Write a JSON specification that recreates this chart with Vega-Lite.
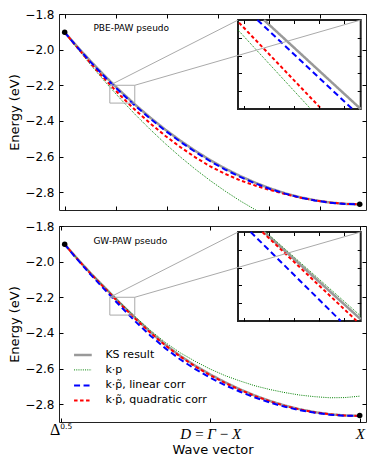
{
  "$schema": "https://vega.github.io/schema/vega-lite/v6.json",
  "padding": {"left": 8, "top": 7, "right": 2, "bottom": 2},
  "spacing": 8,
  "config": {
    "view": {"stroke": "#222", "strokeWidth": 1},
    "scale": {"zero": false},
    "axis": {"grid": false, "domain": false, "tickColor": "#000", "tickSize": -4, "tickWidth": 1, "labelColor": "#000", "labelFont": "DejaVu Sans", "labelFontSize": 12, "titleFont": "DejaVu Sans", "titleFontSize": 13, "titleFontWeight": "normal", "titleColor": "#000", "labelFlush": false, "labelPadding": 9}
  },
  "datasets": {
    "top": [
      {"s":"KS result","x":0.013,"y":-1.903},{"s":"KS result","x":0.05,"y":-1.9736},{"s":"KS result","x":0.1,"y":-2.0653},{"s":"KS result","x":0.15,"y":-2.152},{"s":"KS result","x":0.2,"y":-2.2338},{"s":"KS result","x":0.25,"y":-2.3106},{"s":"KS result","x":0.3,"y":-2.3824},{"s":"KS result","x":0.35,"y":-2.4493},{"s":"KS result","x":0.4,"y":-2.5112},{"s":"KS result","x":0.45,"y":-2.5682},{"s":"KS result","x":0.5,"y":-2.6203},{"s":"KS result","x":0.55,"y":-2.6673},{"s":"KS result","x":0.6,"y":-2.7094},{"s":"KS result","x":0.65,"y":-2.7466},{"s":"KS result","x":0.7,"y":-2.7788},{"s":"KS result","x":0.75,"y":-2.8061},{"s":"KS result","x":0.8,"y":-2.8284},{"s":"KS result","x":0.85,"y":-2.8457},{"s":"KS result","x":0.9,"y":-2.8581},{"s":"KS result","x":0.95,"y":-2.8655},{"s":"KS result","x":1.0,"y":-2.868},
      {"s":"k·p","x":0.013,"y":-1.903},{"s":"k·p","x":0.05,"y":-1.9825},{"s":"k·p","x":0.1,"y":-2.0857},{"s":"k·p","x":0.15,"y":-2.1839},{"s":"k·p","x":0.2,"y":-2.2774},{"s":"k·p","x":0.25,"y":-2.3659},{"s":"k·p","x":0.3,"y":-2.4495},{"s":"k·p","x":0.35,"y":-2.5282},{"s":"k·p","x":0.4,"y":-2.6021},{"s":"k·p","x":0.45,"y":-2.671},{"s":"k·p","x":0.5,"y":-2.7351},{"s":"k·p","x":0.55,"y":-2.7943},{"s":"k·p","x":0.6,"y":-2.8486},{"s":"k·p","x":0.65,"y":-2.898},{"s":"k·p","x":0.7,"y":-2.9425},
      {"s":"k·p̃, quadratic corr","x":0.013,"y":-1.903},{"s":"k·p̃, quadratic corr","x":0.05,"y":-1.9776},{"s":"k·p̃, quadratic corr","x":0.1,"y":-2.0773},{"s":"k·p̃, quadratic corr","x":0.15,"y":-2.171},{"s":"k·p̃, quadratic corr","x":0.2,"y":-2.2588},{"s":"k·p̃, quadratic corr","x":0.25,"y":-2.3406},{"s":"k·p̃, quadratic corr","x":0.3,"y":-2.4154},{"s":"k·p̃, quadratic corr","x":0.35,"y":-2.4843},{"s":"k·p̃, quadratic corr","x":0.4,"y":-2.5472},{"s":"k·p̃, quadratic corr","x":0.45,"y":-2.6042},{"s":"k·p̃, quadratic corr","x":0.5,"y":-2.6553},{"s":"k·p̃, quadratic corr","x":0.55,"y":-2.6973},{"s":"k·p̃, quadratic corr","x":0.6,"y":-2.7334},{"s":"k·p̃, quadratic corr","x":0.65,"y":-2.7626},{"s":"k·p̃, quadratic corr","x":0.7,"y":-2.7878},{"s":"k·p̃, quadratic corr","x":0.75,"y":-2.8101},{"s":"k·p̃, quadratic corr","x":0.8,"y":-2.8304},{"s":"k·p̃, quadratic corr","x":0.85,"y":-2.8457},{"s":"k·p̃, quadratic corr","x":0.9,"y":-2.8581},{"s":"k·p̃, quadratic corr","x":0.95,"y":-2.8655},{"s":"k·p̃, quadratic corr","x":1.0,"y":-2.868},
      {"s":"k·p̃, linear corr","x":0.013,"y":-1.903},{"s":"k·p̃, linear corr","x":0.05,"y":-1.9766},{"s":"k·p̃, linear corr","x":0.1,"y":-2.0703},{"s":"k·p̃, linear corr","x":0.15,"y":-2.158},{"s":"k·p̃, linear corr","x":0.2,"y":-2.2398},{"s":"k·p̃, linear corr","x":0.25,"y":-2.3166},{"s":"k·p̃, linear corr","x":0.3,"y":-2.3884},{"s":"k·p̃, linear corr","x":0.35,"y":-2.4553},{"s":"k·p̃, linear corr","x":0.4,"y":-2.5172},{"s":"k·p̃, linear corr","x":0.45,"y":-2.5742},{"s":"k·p̃, linear corr","x":0.5,"y":-2.6263},{"s":"k·p̃, linear corr","x":0.55,"y":-2.6733},{"s":"k·p̃, linear corr","x":0.6,"y":-2.7144},{"s":"k·p̃, linear corr","x":0.65,"y":-2.7506},{"s":"k·p̃, linear corr","x":0.7,"y":-2.7818},{"s":"k·p̃, linear corr","x":0.75,"y":-2.8081},{"s":"k·p̃, linear corr","x":0.8,"y":-2.8299},{"s":"k·p̃, linear corr","x":0.85,"y":-2.8467},{"s":"k·p̃, linear corr","x":0.9,"y":-2.8586},{"s":"k·p̃, linear corr","x":0.95,"y":-2.8657},{"s":"k·p̃, linear corr","x":1.0,"y":-2.868}
    ],
    "bottom": [
      {"s":"KS result","x":0.013,"y":-1.903},{"s":"KS result","x":0.05,"y":-1.9736},{"s":"KS result","x":0.1,"y":-2.0653},{"s":"KS result","x":0.15,"y":-2.1507},{"s":"KS result","x":0.2,"y":-2.2356},{"s":"KS result","x":0.25,"y":-2.3176},{"s":"KS result","x":0.3,"y":-2.3956},{"s":"KS result","x":0.35,"y":-2.4667},{"s":"KS result","x":0.4,"y":-2.5294},{"s":"KS result","x":0.45,"y":-2.5847},{"s":"KS result","x":0.5,"y":-2.6335},{"s":"KS result","x":0.55,"y":-2.6777},{"s":"KS result","x":0.6,"y":-2.7172},{"s":"KS result","x":0.65,"y":-2.7521},{"s":"KS result","x":0.7,"y":-2.7823},{"s":"KS result","x":0.75,"y":-2.8079},{"s":"KS result","x":0.8,"y":-2.8288},{"s":"KS result","x":0.85,"y":-2.8451},{"s":"KS result","x":0.9,"y":-2.8567},{"s":"KS result","x":0.95,"y":-2.8637},{"s":"KS result","x":1.0,"y":-2.866},
      {"s":"k·p","x":0.013,"y":-1.903},{"s":"k·p","x":0.05,"y":-1.973},{"s":"k·p","x":0.1,"y":-2.064},{"s":"k·p","x":0.15,"y":-2.149},{"s":"k·p","x":0.2,"y":-2.232},{"s":"k·p","x":0.25,"y":-2.311},{"s":"k·p","x":0.3,"y":-2.386},{"s":"k·p","x":0.35,"y":-2.454},{"s":"k·p","x":0.4,"y":-2.512},{"s":"k·p","x":0.45,"y":-2.56},{"s":"k·p","x":0.5,"y":-2.603},{"s":"k·p","x":0.55,"y":-2.64},{"s":"k·p","x":0.6,"y":-2.67},{"s":"k·p","x":0.65,"y":-2.697},{"s":"k·p","x":0.7,"y":-2.718},{"s":"k·p","x":0.75,"y":-2.735},{"s":"k·p","x":0.8,"y":-2.749},{"s":"k·p","x":0.85,"y":-2.758},{"s":"k·p","x":0.9,"y":-2.764},{"s":"k·p","x":0.95,"y":-2.763},{"s":"k·p","x":1.0,"y":-2.755},
      {"s":"k·p̃, quadratic corr","x":0.013,"y":-1.903},{"s":"k·p̃, quadratic corr","x":0.05,"y":-1.9756},{"s":"k·p̃, quadratic corr","x":0.1,"y":-2.0683},{"s":"k·p̃, quadratic corr","x":0.15,"y":-2.1547},{"s":"k·p̃, quadratic corr","x":0.2,"y":-2.2396},{"s":"k·p̃, quadratic corr","x":0.25,"y":-2.3216},{"s":"k·p̃, quadratic corr","x":0.3,"y":-2.3996},{"s":"k·p̃, quadratic corr","x":0.35,"y":-2.4707},{"s":"k·p̃, quadratic corr","x":0.4,"y":-2.5334},{"s":"k·p̃, quadratic corr","x":0.45,"y":-2.5887},{"s":"k·p̃, quadratic corr","x":0.5,"y":-2.6375},{"s":"k·p̃, quadratic corr","x":0.55,"y":-2.6812},{"s":"k·p̃, quadratic corr","x":0.6,"y":-2.7202},{"s":"k·p̃, quadratic corr","x":0.65,"y":-2.7546},{"s":"k·p̃, quadratic corr","x":0.7,"y":-2.7843},{"s":"k·p̃, quadratic corr","x":0.75,"y":-2.8094},{"s":"k·p̃, quadratic corr","x":0.8,"y":-2.8298},{"s":"k·p̃, quadratic corr","x":0.85,"y":-2.8456},{"s":"k·p̃, quadratic corr","x":0.9,"y":-2.8569},{"s":"k·p̃, quadratic corr","x":0.95,"y":-2.8638},{"s":"k·p̃, quadratic corr","x":1.0,"y":-2.866},
      {"s":"k·p̃, linear corr","x":0.013,"y":-1.903},{"s":"k·p̃, linear corr","x":0.05,"y":-1.9776},{"s":"k·p̃, linear corr","x":0.1,"y":-2.0733},{"s":"k·p̃, linear corr","x":0.15,"y":-2.1627},{"s":"k·p̃, linear corr","x":0.2,"y":-2.2516},{"s":"k·p̃, linear corr","x":0.25,"y":-2.3366},{"s":"k·p̃, linear corr","x":0.3,"y":-2.4156},{"s":"k·p̃, linear corr","x":0.35,"y":-2.4867},{"s":"k·p̃, linear corr","x":0.4,"y":-2.5494},{"s":"k·p̃, linear corr","x":0.45,"y":-2.6037},{"s":"k·p̃, linear corr","x":0.5,"y":-2.6515},{"s":"k·p̃, linear corr","x":0.55,"y":-2.6937},{"s":"k·p̃, linear corr","x":0.6,"y":-2.7302},{"s":"k·p̃, linear corr","x":0.65,"y":-2.7631},{"s":"k·p̃, linear corr","x":0.7,"y":-2.7913},{"s":"k·p̃, linear corr","x":0.75,"y":-2.8149},{"s":"k·p̃, linear corr","x":0.8,"y":-2.8338},{"s":"k·p̃, linear corr","x":0.85,"y":-2.8481},{"s":"k·p̃, linear corr","x":0.9,"y":-2.8587},{"s":"k·p̃, linear corr","x":0.95,"y":-2.8647},{"s":"k·p̃, linear corr","x":1.0,"y":-2.866}
    ],
    "topInset": [
      {"s":"KS result","x":0.1817,"y":-2.2},{"s":"KS result","x":0.2475,"y":-2.3},
      {"s":"k·p","x":0.164,"y":-2.2112},{"s":"k·p","x":0.2135,"y":-2.3},
      {"s":"k·p̃, quadratic corr","x":0.1647,"y":-2.203},{"s":"k·p̃, quadratic corr","x":0.2208,"y":-2.3},
      {"s":"k·p̃, linear corr","x":0.1772,"y":-2.2},{"s":"k·p̃, linear corr","x":0.2418,"y":-2.3}
    ],
    "bottomInset": [
      {"s":"KS result","x":0.1817,"y":-2.2},{"s":"KS result","x":0.2475,"y":-2.298},
      {"s":"k·p","x":0.1829,"y":-2.2},{"s":"k·p","x":0.2475,"y":-2.2944},
      {"s":"k·p̃, quadratic corr","x":0.1806,"y":-2.2},{"s":"k·p̃, quadratic corr","x":0.2448,"y":-2.3},
      {"s":"k·p̃, linear corr","x":0.1726,"y":-2.2},{"s":"k·p̃, linear corr","x":0.2339,"y":-2.3}
    ],
    "connectors": [
      {"id":1,"x":0.164,"y":-2.2},{"id":1,"x":0.593,"y":-1.834},
      {"id":2,"x":0.2475,"y":-2.2},{"id":2,"x":1.003,"y":-1.834}
    ]
  },
  "resolve": {"scale": {"x": "independent", "y": "independent", "color": "independent", "strokeDash": "independent", "strokeWidth": "independent"}, "legend": {"color": "independent", "strokeDash": "independent", "strokeWidth": "independent"}},
  "vconcat": [
    {
      "width": 307, "height": 196,
      "layer": [
        {
          "layer": [
            {
              "data": {"name": "top"},
              "mark": {"type": "line", "clip": true},
              "encoding": {
                "x": {"field": "x", "type": "quantitative", "scale": {"domain": [-0.006, 1.021], "nice": false}, "axis": {"orient": "bottom", "values": [0.0144, 0.1863, 0.3569, 0.5274, 0.6967, 0.8673], "labels": false, "title": null}},
                "y": {"field": "y", "type": "quantitative", "scale": {"domain": [-2.9, -1.8], "nice": false}, "axis": {"orient": "left", "values": [-2.8, -2.6, -2.4, -2.2, -2.0, -1.8], "format": ".1f", "title": "Energy (eV)", "titlePadding": 3}},
                "color": {"field": "s", "type": "nominal", "scale": {"domain": ["KS result", "k·p", "k·p̃, linear corr", "k·p̃, quadratic corr"], "range": ["#999999", "#008000", "#0000ff", "#ff0000"]}, "legend": null},
                "strokeDash": {"field": "s", "type": "nominal", "scale": {"domain": ["KS result", "k·p", "k·p̃, linear corr", "k·p̃, quadratic corr"], "range": [[1, 0], [1, 1.2], [6, 3.5], [3.5, 2.5]]}, "legend": null},
                "strokeWidth": {"field": "s", "type": "nominal", "scale": {"type": "ordinal", "domain": ["KS result", "k·p", "k·p̃, linear corr", "k·p̃, quadratic corr"], "range": [2.5, 1, 2, 2]}, "legend": null}
              }
            },
            {
              "data": {"values": [{"x": 0.013, "y": -1.903}, {"x": 1.0, "y": -2.868}]},
              "mark": {"type": "point", "shape": "circle", "filled": true, "color": "#000", "opacity": 1, "size": 30},
              "encoding": {
                "x": {"field": "x", "type": "quantitative", "scale": {"domain": [-0.006, 1.021], "nice": false}, "axis": {"orient": "top", "values": [0.0144, 0.1863, 0.3569, 0.5274, 0.6967, 0.8673], "labels": false, "title": null}},
                "y": {"field": "y", "type": "quantitative", "scale": {"domain": [-2.9, -1.8], "nice": false}, "axis": {"orient": "right", "values": [-2.8, -2.6, -2.4, -2.2, -2.0, -1.8], "labels": false, "title": null}}
              }
            },
            {
              "data": {"values": [{}]},
              "mark": {"type": "rect", "fill": null, "stroke": "#aaaaaa", "strokeWidth": 1},
              "encoding": {
                "x": {"datum": 0.164, "type": "quantitative", "scale": {"domain": [-0.006, 1.021], "nice": false}, "axis": null}, "x2": {"datum": 0.2475},
                "y": {"datum": -2.3, "type": "quantitative", "scale": {"domain": [-2.9, -1.8], "nice": false}, "axis": null}, "y2": {"datum": -2.2}
              }
            },
            {
              "data": {"values": [{}]},
              "mark": {"type": "text", "text": "PBE-PAW pseudo", "font": "DejaVu Sans", "fontSize": 9, "align": "left", "baseline": "middle", "color": "#000"},
              "encoding": {
                "x": {"datum": 0.109, "type": "quantitative", "scale": {"domain": [-0.006, 1.021], "nice": false}, "axis": null},
                "y": {"datum": -1.8786, "type": "quantitative", "scale": {"domain": [-2.9, -1.8], "nice": false}, "axis": null}
              }
            }
          ],
          "resolve": {"axis": {"x": "independent", "y": "independent"}}
        },
        {
          "layer": [
            {
              "data": {"values": [{}]},
              "mark": {"type": "rect", "fill": "white", "stroke": "#222", "strokeWidth": 2},
              "encoding": {
                "x": {"datum": 0.164, "type": "quantitative", "scale": {"domain": [0.164, 0.2475], "range": [179, 301.7], "nice": false}, "axis": {"orient": "bottom", "offset": -101, "values": [0.168, 0.185, 0.202, 0.219, 0.236], "labels": false, "title": null, "tickSize": -3.5, "zindex": 1}},
                "x2": {"datum": 0.2475},
                "y": {"datum": -2.3, "type": "quantitative", "scale": {"domain": [-2.3, -2.2], "range": [95, 6], "nice": false}, "axis": {"orient": "left", "offset": -179, "values": [-2.28, -2.26, -2.24, -2.22], "labels": false, "title": null, "tickSize": -3.5, "zindex": 1}},
                "y2": {"datum": -2.2}
              }
            },
            {
              "data": {"name": "topInset"},
              "mark": {"type": "line"},
              "encoding": {
                "x": {"field": "x", "type": "quantitative", "scale": {"domain": [0.164, 0.2475], "range": [179, 301.7], "nice": false}, "axis": {"orient": "top", "offset": -6, "values": [0.168, 0.185, 0.202, 0.219, 0.236], "labels": false, "title": null, "tickSize": -3.5, "zindex": 1}},
                "y": {"field": "y", "type": "quantitative", "scale": {"domain": [-2.3, -2.2], "range": [95, 6], "nice": false}, "axis": {"orient": "right", "offset": -5.3, "values": [-2.28, -2.26, -2.24, -2.22], "labels": false, "title": null, "tickSize": -3.5, "zindex": 1}},
                "color": {"field": "s", "type": "nominal", "scale": {"domain": ["KS result", "k·p", "k·p̃, linear corr", "k·p̃, quadratic corr"], "range": ["#999999", "#008000", "#0000ff", "#ff0000"]}, "legend": null},
                "strokeDash": {"field": "s", "type": "nominal", "scale": {"domain": ["KS result", "k·p", "k·p̃, linear corr", "k·p̃, quadratic corr"], "range": [[1, 0], [1, 1.2], [6, 3.5], [3.5, 2.5]]}, "legend": null},
                "strokeWidth": {"field": "s", "type": "nominal", "scale": {"type": "ordinal", "domain": ["KS result", "k·p", "k·p̃, linear corr", "k·p̃, quadratic corr"], "range": [2.5, 1, 2, 2]}, "legend": null}
              }
            }
          ],
          "resolve": {"axis": {"x": "independent", "y": "independent"}}
        },
        {
          "data": {"name": "connectors"},
          "mark": {"type": "line", "color": "#aaaaaa", "strokeWidth": 1},
          "encoding": {
            "x": {"field": "x", "type": "quantitative", "scale": {"domain": [-0.006, 1.021], "nice": false}, "axis": null},
            "y": {"field": "y", "type": "quantitative", "scale": {"domain": [-2.9, -1.8], "nice": false}, "axis": null},
            "detail": {"field": "id"}
          }
        }
      ],
      "resolve": {"scale": {"x": "independent", "y": "independent"}}
    },
    {
      "width": 307, "height": 196,
      "layer": [
        {
          "layer": [
            {
              "data": {"name": "bottom"},
              "mark": {"type": "line", "clip": true},
              "encoding": {
                "x": {"field": "x", "type": "quantitative", "scale": {"domain": [-0.006, 1.021], "nice": false}, "axis": {"orient": "bottom", "values": [0, 0.5, 1], "labelExpr": "datum.value == 1 ? 'X' : datum.value == 0.5 ? 'D\u2009=\u2009Γ\u2009−\u2009X' : ''", "labelFont": "Liberation Serif", "labelFontStyle": "italic", "labelFontSize": 15, "labelPadding": 8, "title": "Wave vector", "titlePadding": 2}},
                "y": {"field": "y", "type": "quantitative", "scale": {"domain": [-2.9, -1.8], "nice": false}, "axis": {"orient": "left", "values": [-2.8, -2.6, -2.4, -2.2, -2.0, -1.8], "format": ".1f", "title": "Energy (eV)", "titlePadding": 3}},
                "color": {"field": "s", "type": "nominal", "scale": {"domain": ["KS result", "k·p", "k·p̃, linear corr", "k·p̃, quadratic corr"], "range": ["#999999", "#008000", "#0000ff", "#ff0000"]}, "legend": {"orient": "none", "legendX": 13.4, "legendY": 118.4, "title": null, "symbolType": "stroke", "symbolSize": 313, "symbolStrokeWidth": 1.5, "labelFont": "DejaVu Sans", "labelFontSize": 11, "labelColor": "#000", "labelOffset": 12, "rowPadding": 0, "padding": 0}},
                "strokeDash": {"field": "s", "type": "nominal", "scale": {"domain": ["KS result", "k·p", "k·p̃, linear corr", "k·p̃, quadratic corr"], "range": [[1, 0], [1, 1.2], [6, 3.5], [3.5, 2.5]]}, "legend": {"orient": "none", "legendX": 13.4, "legendY": 118.4, "title": null, "symbolType": "stroke", "symbolSize": 313, "symbolStrokeWidth": 1.5, "labelFont": "DejaVu Sans", "labelFontSize": 11, "labelColor": "#000", "labelOffset": 12, "rowPadding": 0, "padding": 0}},
                "strokeWidth": {"field": "s", "type": "nominal", "scale": {"type": "ordinal", "domain": ["KS result", "k·p", "k·p̃, linear corr", "k·p̃, quadratic corr"], "range": [2.5, 1, 2, 2]}, "legend": null}
              }
            },
            {
              "data": {"values": [{"x": 0.013, "y": -1.903}, {"x": 1.0, "y": -2.864}]},
              "mark": {"type": "point", "shape": "circle", "filled": true, "color": "#000", "opacity": 1, "size": 30},
              "encoding": {
                "x": {"field": "x", "type": "quantitative", "scale": {"domain": [-0.006, 1.021], "nice": false}, "axis": {"orient": "top", "values": [0, 0.5, 1], "labels": false, "title": null}},
                "y": {"field": "y", "type": "quantitative", "scale": {"domain": [-2.9, -1.8], "nice": false}, "axis": {"orient": "right", "values": [-2.8, -2.6, -2.4, -2.2, -2.0, -1.8], "labels": false, "title": null}}
              }
            },
            {
              "data": {"values": [{}]},
              "mark": {"type": "rect", "fill": null, "stroke": "#aaaaaa", "strokeWidth": 1},
              "encoding": {
                "x": {"datum": 0.164, "type": "quantitative", "scale": {"domain": [-0.006, 1.021], "nice": false}, "axis": null}, "x2": {"datum": 0.2475},
                "y": {"datum": -2.3, "type": "quantitative", "scale": {"domain": [-2.9, -1.8], "nice": false}, "axis": null}, "y2": {"datum": -2.2}
              }
            },
            {
              "data": {"values": [{}]},
              "mark": {"type": "text", "text": "GW-PAW pseudo", "font": "DejaVu Sans", "fontSize": 9, "align": "left", "baseline": "middle", "color": "#000"},
              "encoding": {
                "x": {"datum": 0.109, "type": "quantitative", "scale": {"domain": [-0.006, 1.021], "nice": false}, "axis": null},
                "y": {"datum": -1.882, "type": "quantitative", "scale": {"domain": [-2.9, -1.8], "nice": false}, "axis": null}
              }
            },
            {
              "data": {"values": [{}]},
              "mark": {"type": "text", "text": "Δ", "font": "Liberation Serif", "fontSize": 16, "align": "right", "baseline": "alphabetic", "dx": -0.5, "dy": 13, "color": "#000"},
              "encoding": {
                "x": {"datum": 0, "type": "quantitative", "scale": {"domain": [-0.006, 1.021], "nice": false}, "axis": null},
                "y": {"datum": -2.9, "type": "quantitative", "scale": {"domain": [-2.9, -1.8], "nice": false}, "axis": null}
              }
            },
            {
              "data": {"values": [{}]},
              "mark": {"type": "text", "text": "0.5", "font": "DejaVu Sans", "fontSize": 7.5, "align": "left", "baseline": "middle", "dx": -0.5, "dy": 5, "color": "#000"},
              "encoding": {
                "x": {"datum": 0, "type": "quantitative", "scale": {"domain": [-0.006, 1.021], "nice": false}, "axis": null},
                "y": {"datum": -2.9, "type": "quantitative", "scale": {"domain": [-2.9, -1.8], "nice": false}, "axis": null}
              }
            }
          ],
          "resolve": {"axis": {"x": "independent", "y": "independent"}}
        },
        {
          "layer": [
            {
              "data": {"values": [{}]},
              "mark": {"type": "rect", "fill": "white", "stroke": "#222", "strokeWidth": 2},
              "encoding": {
                "x": {"datum": 0.164, "type": "quantitative", "scale": {"domain": [0.164, 0.2475], "range": [179, 301.7], "nice": false}, "axis": {"orient": "bottom", "offset": -101, "values": [0.168, 0.185, 0.202, 0.219, 0.236], "labels": false, "title": null, "tickSize": -3.5, "zindex": 1}},
                "x2": {"datum": 0.2475},
                "y": {"datum": -2.3, "type": "quantitative", "scale": {"domain": [-2.3, -2.2], "range": [95, 6], "nice": false}, "axis": {"orient": "left", "offset": -179, "values": [-2.28, -2.26, -2.24, -2.22], "labels": false, "title": null, "tickSize": -3.5, "zindex": 1}},
                "y2": {"datum": -2.2}
              }
            },
            {
              "data": {"name": "bottomInset"},
              "mark": {"type": "line"},
              "encoding": {
                "x": {"field": "x", "type": "quantitative", "scale": {"domain": [0.164, 0.2475], "range": [179, 301.7], "nice": false}, "axis": {"orient": "top", "offset": -6, "values": [0.168, 0.185, 0.202, 0.219, 0.236], "labels": false, "title": null, "tickSize": -3.5, "zindex": 1}},
                "y": {"field": "y", "type": "quantitative", "scale": {"domain": [-2.3, -2.2], "range": [95, 6], "nice": false}, "axis": {"orient": "right", "offset": -5.3, "values": [-2.28, -2.26, -2.24, -2.22], "labels": false, "title": null, "tickSize": -3.5, "zindex": 1}},
                "color": {"field": "s", "type": "nominal", "scale": {"domain": ["KS result", "k·p", "k·p̃, linear corr", "k·p̃, quadratic corr"], "range": ["#999999", "#008000", "#0000ff", "#ff0000"]}},
                "strokeDash": {"field": "s", "type": "nominal", "scale": {"domain": ["KS result", "k·p", "k·p̃, linear corr", "k·p̃, quadratic corr"], "range": [[1, 0], [1, 1.2], [6, 3.5], [3.5, 2.5]]}},
                "strokeWidth": {"field": "s", "type": "nominal", "scale": {"type": "ordinal", "domain": ["KS result", "k·p", "k·p̃, linear corr", "k·p̃, quadratic corr"], "range": [2.5, 1, 2, 2]}, "legend": null}
              }
            }
          ],
          "resolve": {"axis": {"x": "independent", "y": "independent"}}
        },
        {
          "data": {"name": "connectors"},
          "mark": {"type": "line", "color": "#aaaaaa", "strokeWidth": 1},
          "encoding": {
            "x": {"field": "x", "type": "quantitative", "scale": {"domain": [-0.006, 1.021], "nice": false}, "axis": null},
            "y": {"field": "y", "type": "quantitative", "scale": {"domain": [-2.9, -1.8], "nice": false}, "axis": null},
            "detail": {"field": "id"}
          }
        }
      ],
      "resolve": {"scale": {"x": "independent", "y": "independent"}}
    }
  ]
}
